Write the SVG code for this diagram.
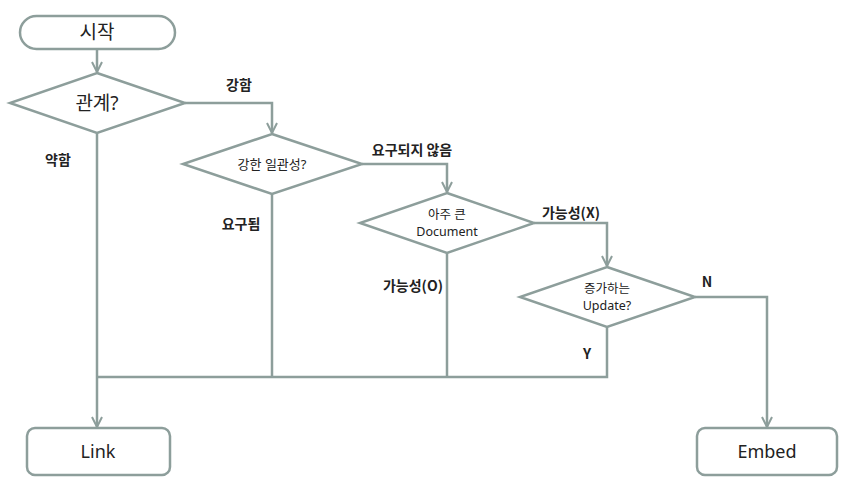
<svg xmlns="http://www.w3.org/2000/svg" width="854" height="487" viewBox="0 0 854 487">
<defs>
<style>
.shape{fill:#fff;stroke:#8d9e9b;stroke-width:2.5}
.conn{fill:none;stroke:#8d9e9b;stroke-width:2.5}
.t{font-family:"Noto Sans","Noto Sans CJK KR",sans-serif;fill:#222;text-anchor:middle}
.lbl{font-family:"Noto Sans CJK KR","Noto Sans",sans-serif;fill:#222;font-weight:bold;font-size:14px;text-anchor:middle}
</style>
<marker id="ah" viewBox="0 0 12 12" refX="11" refY="6" markerWidth="12" markerHeight="12" markerUnits="userSpaceOnUse" orient="auto">
<path d="M1,1 L11,6 L1,11" fill="none" stroke="#8d9e9b" stroke-width="2"/>
</marker>
</defs>
<rect width="854" height="487" fill="#fff"/>
<g id="connectors">
<path class="conn" d="M97,49 V72" marker-end="url(#ah)"/>
<path class="conn" d="M185,103 H272 V133" marker-end="url(#ah)"/>
<path class="conn" d="M362,164 H447 V192" marker-end="url(#ah)"/>
<path class="conn" d="M534,223 H607 V266" marker-end="url(#ah)"/>
<path class="conn" d="M695,297 H767 V427" marker-end="url(#ah)"/>
<path class="conn" d="M97,133 V427" marker-end="url(#ah)"/>
<path class="conn" d="M272,194 V377"/>
<path class="conn" d="M447,253 V377"/>
<path class="conn" d="M607,327 V377 H97"/>
</g>
<g id="labels">
<text class="lbl" x="239" y="90">강함</text>
<text class="lbl" x="58" y="165">약함</text>
<text class="lbl" x="412" y="155">요구되지 않음</text>
<text class="lbl" x="241" y="229">요구됨</text>
<text class="lbl" x="571" y="218">가능성(X)</text>
<text class="lbl" x="413" y="291">가능성(O)</text>
<text class="lbl" x="707" y="287">N</text>
<text class="lbl" x="587" y="359">Y</text>
</g>
<g id="start">
<rect class="shape" x="20" y="16" width="155" height="33" rx="16.5"/>
<text class="t" x="97" y="39" style="font-size:19px">시작</text>
</g>
<g id="d1">
<polygon class="shape" points="97,73 185,103 97,133 10,103"/>
<text class="t" x="97" y="110" style="font-size:19px">관계?</text>
</g>
<g id="d2">
<polygon class="shape" points="272,134 362,164 272,194 183,164"/>
<text class="t" x="272" y="169" style="font-size:13px">강한 일관성?</text>
</g>
<g id="d3">
<polygon class="shape" points="447,193 534,223 447,253 360,223"/>
<text class="t" x="447" y="219" style="font-size:12.5px">아주 큰</text>
<text class="t" x="447" y="236" style="font-size:12.5px">Document</text>
</g>
<g id="d4">
<polygon class="shape" points="607,267 695,297 607,327 520,297"/>
<text class="t" x="607" y="293" style="font-size:12.5px">증가하는</text>
<text class="t" x="607" y="310" style="font-size:12.5px">Update?</text>
</g>
<g id="link">
<rect class="shape" x="27" y="428" width="143" height="47" rx="8"/>
<text class="t" x="98" y="458" style="font-size:18px">Link</text>
</g>
<g id="embed">
<rect class="shape" x="697" y="428" width="140" height="47" rx="8"/>
<text class="t" x="767" y="458" style="font-size:18px">Embed</text>
</g>
</svg>
